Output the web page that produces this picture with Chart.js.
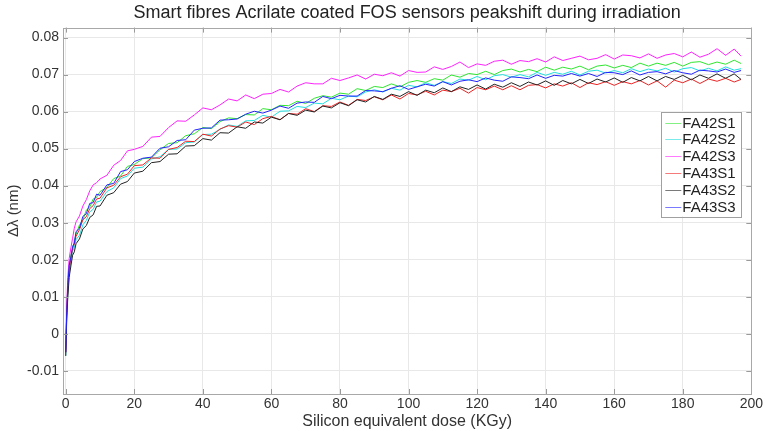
<!DOCTYPE html>
<html>
<head>
<meta charset="utf-8">
<title>FOS peakshift</title>
<script src="https://cdn.jsdelivr.net/npm/chart.js@4.4.1/dist/chart.umd.min.js"></script>
<style>
  html, body { margin: 0; padding: 0; background: #fff; }
  #wrap { width: 765px; height: 431px; }
</style>
</head>
<body>
<div id="wrap"><canvas id="chart" width="765" height="431"></canvas></div>
<script>
// --------- Datos ---------
const TITLE = "Smart fibres Acrilate coated FOS sensors peakshift during irradiation";
const X_TITLE = "Silicon equivalent dose (KGy)";
const Y_TITLE = "\u0394\u03bb (nm)";

const SERIES = ["FA42S1", "FA42S2", "FA42S3", "FA43S1", "FA43S2", "FA43S3"];
const COLORS = ["#2ee62e", "#22dede", "#ff22ff", "#ee2222", "#222222", "#2222ff"];

// dosis (KGy)
const DOSE = [
    0, 0.3, 0.6, 1, 1.5, 2, 2.5, 3, 4, 5, 6, 7, 8, 9, 10, 12, 14, 16, 18, 20,
    22.5, 25, 27.5, 30, 32.5, 35, 37.5, 40, 42.5, 45, 47.5, 50,
    52.5, 55, 57.5, 60, 62.5, 65, 67.5, 70, 72.5, 75, 77.5, 80,
    82.5, 85, 87.5, 90, 92.5, 95, 97.5, 100, 102.5, 105, 107.5, 110,
    112.5, 115, 117.5, 120, 122.5, 125, 127.5, 130, 132.5, 135, 137.5, 140,
    142.5, 145, 147.5, 150, 152.5, 155, 157.5, 160, 162.5, 165, 167.5, 170,
    172.5, 175, 177.5, 180, 182.5, 185, 187.5, 190, 192.5, 195, 197,
];

// desplazamiento de pico (nm)
const FA42S1 = [
    -0.004, 0.0072, 0.0128, 0.0182, 0.0212, 0.0228, 0.0253, 0.0268, 0.0294, 0.0307, 0.0334, 0.0342, 0.0364, 0.0368, 0.0384, 0.0395, 0.0419, 0.0426, 0.0452, 0.0457,
    0.0473, 0.0475, 0.0497, 0.0514, 0.0516, 0.0535, 0.054, 0.0557, 0.0554, 0.0573, 0.0583, 0.0581,
    0.0592, 0.0591, 0.0608, 0.0605, 0.0617, 0.0616, 0.0628, 0.0622, 0.0636, 0.0643, 0.0639, 0.065,
    0.0647, 0.0662, 0.0657, 0.0668, 0.0665, 0.0675, 0.0667, 0.0679, 0.0684, 0.0679, 0.0689, 0.0685,
    0.0699, 0.0693, 0.0703, 0.07, 0.0709, 0.07, 0.0711, 0.0715, 0.0707, 0.0714, 0.0708, 0.072,
    0.0712, 0.072, 0.0715, 0.0723, 0.0713, 0.0723, 0.0726, 0.0718, 0.0725, 0.0719, 0.0731, 0.0723,
    0.0731, 0.0725, 0.0733, 0.0723, 0.0733, 0.0735, 0.0727, 0.0734, 0.0728, 0.0739, 0.073,
];
const FA42S2 = [
    -0.006, 0.0052, 0.0108, 0.0163, 0.0193, 0.0224, 0.0232, 0.0254, 0.0266, 0.0294, 0.0306, 0.0329, 0.0336, 0.0356, 0.0358, 0.0384, 0.0394, 0.0419, 0.0426, 0.0447,
    0.045, 0.0472, 0.0478, 0.0498, 0.0499, 0.0516, 0.0518, 0.0538, 0.0539, 0.0552, 0.0564, 0.056,
    0.0575, 0.0576, 0.059, 0.0585, 0.0601, 0.0602, 0.0614, 0.0611, 0.0623, 0.0621, 0.0636, 0.0632,
    0.0642, 0.064, 0.0653, 0.0659, 0.0653, 0.0663, 0.0658, 0.0671, 0.0667, 0.0678, 0.0671, 0.0681,
    0.0676, 0.0688, 0.0685, 0.0695, 0.0686, 0.0697, 0.07, 0.0693, 0.07, 0.0694, 0.0706, 0.0698,
    0.0706, 0.0701, 0.0709, 0.0699, 0.0709, 0.0712, 0.0704, 0.0711, 0.0705, 0.0716, 0.0708, 0.0715,
    0.071, 0.0717, 0.0707, 0.0716, 0.0719, 0.071, 0.0717, 0.071, 0.0721, 0.0712, 0.0716,
];
const FA42S3 = [
    -0.005, 0.008, 0.0152, 0.0203, 0.0232, 0.0258, 0.0285, 0.0302, 0.0318, 0.0345, 0.0362, 0.0386, 0.0402, 0.0408, 0.0418, 0.0428, 0.0455, 0.0468, 0.0494, 0.0498,
    0.0506, 0.0531, 0.0533, 0.0557, 0.0575, 0.0574, 0.0591, 0.061, 0.0605, 0.0618, 0.0634, 0.0629,
    0.0645, 0.0635, 0.0647, 0.0649, 0.066, 0.0653, 0.0669, 0.0678, 0.0675, 0.0675, 0.069, 0.0684,
    0.0691, 0.0699, 0.0688, 0.0701, 0.0697, 0.0705, 0.0696, 0.0711, 0.0706, 0.0707, 0.0721, 0.0714,
    0.0722, 0.0734, 0.0719, 0.0729, 0.0725, 0.0736, 0.0739, 0.0728, 0.0738, 0.0735, 0.0743, 0.0734,
    0.0748, 0.0738, 0.0744, 0.075, 0.074, 0.0744, 0.0754, 0.0742, 0.0753, 0.0751, 0.0745, 0.0756,
    0.0744, 0.0753, 0.0757, 0.0748, 0.0761, 0.0747, 0.0755, 0.077, 0.0752, 0.0769, 0.075,
];
const FA43S1 = [
    -0.005, 0.0062, 0.0118, 0.0172, 0.0203, 0.0231, 0.0242, 0.0263, 0.0281, 0.0308, 0.0316, 0.0338, 0.0346, 0.0364, 0.0366, 0.0394, 0.0401, 0.0424, 0.0431, 0.0454,
    0.0456, 0.0475, 0.0474, 0.0498, 0.0503, 0.052, 0.0519, 0.0539, 0.0534, 0.0553, 0.0562, 0.0558,
    0.0572, 0.0565, 0.0581, 0.0587, 0.0578, 0.0595, 0.0593, 0.0608, 0.06, 0.0616, 0.0614, 0.0626,
    0.0617, 0.0633, 0.063, 0.064, 0.0632, 0.0645, 0.0634, 0.0649, 0.0645, 0.0655, 0.0645, 0.0658,
    0.0654, 0.0663, 0.065, 0.0665, 0.0659, 0.0669, 0.0659, 0.067, 0.0659, 0.0671, 0.0673, 0.0664,
    0.0675, 0.0669, 0.0678, 0.0665, 0.0678, 0.0673, 0.0681, 0.0671, 0.0681, 0.0675, 0.0684, 0.0672,
    0.0683, 0.0666, 0.0685, 0.0678, 0.0688, 0.0676, 0.0688, 0.0682, 0.069, 0.068, 0.0687,
];
const FA43S2 = [
    -0.006, 0.0042, 0.0098, 0.0152, 0.0183, 0.0212, 0.0221, 0.0243, 0.0256, 0.0283, 0.0292, 0.0314, 0.0321, 0.0344, 0.0345, 0.0374, 0.0381, 0.0404, 0.0411, 0.0434,
    0.0439, 0.0462, 0.0465, 0.0485, 0.0486, 0.0507, 0.0508, 0.0527, 0.0523, 0.0543, 0.0542, 0.0559,
    0.0555, 0.0572, 0.0569, 0.0585, 0.0578, 0.0595, 0.059, 0.0604, 0.0599, 0.0615, 0.061, 0.0624,
    0.0616, 0.0632, 0.0626, 0.0641, 0.0633, 0.0647, 0.0641, 0.0654, 0.0644, 0.0658, 0.0651, 0.0664,
    0.0654, 0.0667, 0.066, 0.0672, 0.0661, 0.0674, 0.0666, 0.0678, 0.0668, 0.068, 0.0672, 0.0683,
    0.0671, 0.0684, 0.0675, 0.0687, 0.0676, 0.0688, 0.068, 0.0691, 0.0679, 0.0692, 0.0683, 0.0695,
    0.0683, 0.0695, 0.0687, 0.0698, 0.0686, 0.0699, 0.069, 0.0702, 0.069, 0.0702, 0.0687,
];
const FA43S3 = [
    -0.005, 0.006, 0.013, 0.0184, 0.0207, 0.0236, 0.0244, 0.0276, 0.0285, 0.0317, 0.0324, 0.0352, 0.0354, 0.0377, 0.0374, 0.0402, 0.0406, 0.0438, 0.0443, 0.0465,
    0.0474, 0.0477, 0.0501, 0.0505, 0.0522, 0.0524, 0.055, 0.0555, 0.0556, 0.0577, 0.0578, 0.058,
    0.0593, 0.0601, 0.0596, 0.0604, 0.0615, 0.0609, 0.0623, 0.0626, 0.0625, 0.0641, 0.0635, 0.0644,
    0.0642, 0.0642, 0.0657, 0.0656, 0.0654, 0.0663, 0.067, 0.066, 0.0667, 0.0674, 0.0669, 0.0681,
    0.0672, 0.0682, 0.0686, 0.0681, 0.0691, 0.0685, 0.0682, 0.0694, 0.0692, 0.0689, 0.0699, 0.069,
    0.0698, 0.0696, 0.0703, 0.0696, 0.0703, 0.0695, 0.0706, 0.0705, 0.07, 0.071, 0.0699, 0.0706,
    0.0708, 0.0702, 0.0711, 0.0705, 0.0701, 0.0712, 0.071, 0.0707, 0.0715, 0.0706, 0.0711,
];
const VALUES = [FA42S1, FA42S2, FA42S3, FA43S1, FA43S2, FA43S3];

// ticks
const X_TICKS = [0, 20, 40, 60, 80, 100, 120, 140, 160, 180, 200];
const Y_TICKS = [-0.01, 0, 0.01, 0.02, 0.03, 0.04, 0.05, 0.06, 0.07, 0.08];

const FONT = "'Liberation Sans', Arial, Helvetica, sans-serif";

// Caja del eje con marcas interiores (estilo MATLAB)
const boxPlugin = {
    id: "box",
    afterDatasetsDraw(chart) {
        const { ctx, chartArea: a, scales } = chart;
        ctx.save();
        ctx.strokeStyle = "#9a9a9a";
        ctx.lineWidth = 1;
        ctx.beginPath();
        X_TICKS.forEach((t) => {
            const x = Math.round(scales.x.getPixelForValue(t)) + 0.5;
            ctx.moveTo(x, a.bottom); ctx.lineTo(x, a.bottom - 5);
            ctx.moveTo(x, a.top); ctx.lineTo(x, a.top + 5);
        });
        Y_TICKS.forEach((t) => {
            const y = Math.round(scales.y.getPixelForValue(t)) + 0.5;
            ctx.moveTo(a.left, y); ctx.lineTo(a.left + 5, y);
            ctx.moveTo(a.right, y); ctx.lineTo(a.right - 5, y);
        });
        ctx.stroke();
        ctx.strokeStyle = "#a8a8a8";
        ctx.strokeRect(Math.round(a.left) + 0.5, Math.round(a.top) + 0.5,
            Math.round(a.right - a.left), Math.round(a.bottom - a.top));
        ctx.restore();
    },
};

// Leyenda dentro del área del gráfico
const legendPlugin = {
    id: "insideLegend",
    afterDraw(chart) {
        const { ctx, chartArea: a } = chart;
        const ds = chart.data.datasets;
        const w = 80, rowH = 16.8;
        const x0 = a.right - 10 - w, y0 = a.top + 84;
        const h = ds.length * rowH + 4;
        ctx.save();
        ctx.fillStyle = "#fff";
        ctx.fillRect(x0, y0, w, h);
        ctx.strokeStyle = "#a0a0a0";
        ctx.lineWidth = 1;
        ctx.strokeRect(Math.round(x0) + 0.5, Math.round(y0) + 0.5, w, Math.round(h));
        ctx.font = "15px " + FONT;
        ctx.textBaseline = "middle";
        ds.forEach((d, i) => {
            const y = Math.round(y0 + 11 + i * rowH) + 0.5;
            ctx.strokeStyle = d.borderColor;
            ctx.globalAlpha = 0.6;
            ctx.beginPath();
            ctx.moveTo(x0 + 4, y);
            ctx.lineTo(x0 + 20, y);
            ctx.stroke();
            ctx.globalAlpha = 1;
            ctx.fillStyle = "#222";
            ctx.fillText(d.label, x0 + 21, y + 0.5);
        });
        ctx.restore();
    },
};

const datasets = SERIES.map((name, i) => ({
    label: name,
    data: DOSE.map((x, k) => ({ x, y: VALUES[i][k] })),
    borderColor: COLORS[i],
    borderWidth: 1,
    pointRadius: 0,
    tension: 0,
    fill: false,
    order: SERIES.length - i,
}));

new Chart(document.getElementById("chart").getContext("2d"), {
    type: "line",
    data: { datasets },
    options: {
        responsive: false,
        animation: false,
        layout: { padding: { top: 2, right: 13, left: 0, bottom: 0 } },
        plugins: {
            legend: { display: false },
            tooltip: { enabled: false },
            title: {
                display: true,
                fullSize: false,
                text: TITLE,
                color: "#222",
                font: { family: FONT, size: 18, weight: "normal" },
                padding: { top: 0, bottom: 4 },
            },
        },
        scales: {
            x: {
                type: "linear",
                min: -0.8,
                max: 200,
                afterBuildTicks: (s) => { s.ticks = X_TICKS.map((v) => ({ value: v })); },
                afterFit: (s) => { s.height = 37; },
                ticks: {
                    color: "#333",
                    font: { family: FONT, size: 14 },
                    padding: 2,
                    maxRotation: 0,
                    callback: (v) => String(v),
                },
                grid: { color: "#e8e8e8", drawTicks: false },
                border: { display: false },
                title: {
                    display: true,
                    text: X_TITLE,
                    color: "#333",
                    font: { family: FONT, size: 16 },
                    padding: { top: 0, bottom: 0 },
                },
            },
            y: {
                type: "linear",
                min: -0.0163,
                max: 0.0827,
                afterBuildTicks: (s) => { s.ticks = Y_TICKS.map((v) => ({ value: v })); },
                afterFit: (s) => { s.width = 63; },
                ticks: {
                    color: "#333",
                    font: { family: FONT, size: 14 },
                    padding: 4,
                    callback: (v) => String(Math.round(v * 100) / 100),
                },
                grid: { color: "#e8e8e8", drawTicks: false },
                border: { display: false },
                title: {
                    display: true,
                    text: Y_TITLE,
                    color: "#333",
                    font: { family: FONT, size: 15 },
                    padding: { top: 5, bottom: 2 },
                },
            },
        },
    },
    plugins: [boxPlugin, legendPlugin],
});
</script>
</body>
</html>
